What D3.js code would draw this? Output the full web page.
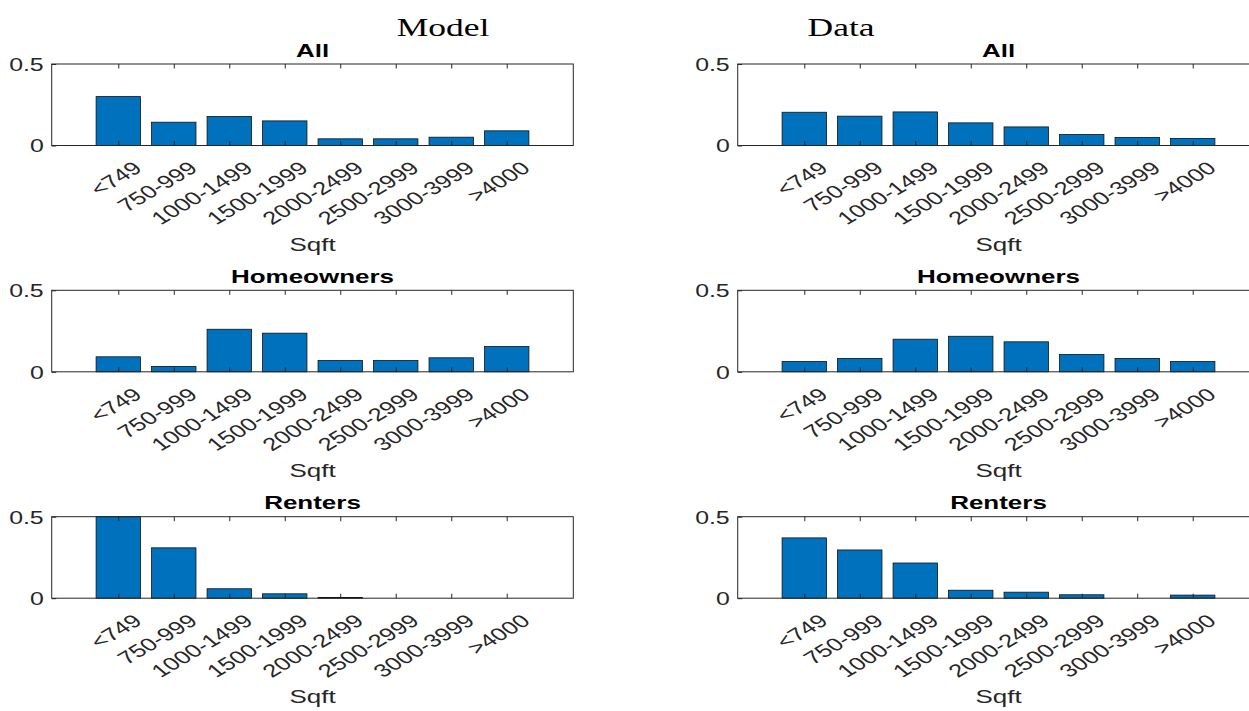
<!DOCTYPE html>
<html>
<head>
<meta charset="utf-8">
<script src="https://cdn.jsdelivr.net/npm/d3@7/dist/d3.min.js"></script>
<style>
  body { margin: 0; background: #fff; }
  svg { display: block; }
</style>
</head>
<body>
<div id="chart"></div>
<script>
// categories and values
var categories = ["<749", "750-999", "1000-1499", "1500-1999", "2000-2499", "2500-2999", "3000-3999", ">4000"];
var modelAll     = [0.300, 0.143, 0.178, 0.151, 0.041, 0.041, 0.051, 0.090];
var dataAll      = [0.204, 0.180, 0.206, 0.139, 0.114, 0.067, 0.049, 0.043];
var modelOwners  = [0.092, 0.033, 0.261, 0.237, 0.069, 0.069, 0.086, 0.155];
var dataOwners   = [0.063, 0.082, 0.200, 0.218, 0.184, 0.106, 0.082, 0.063];
var modelRenters = [0.500, 0.309, 0.058, 0.027, 0.004, 0, 0, 0];
var dataRenters  = [0.370, 0.296, 0.216, 0.049, 0.037, 0.021, 0, 0.019];
var yTicks = [0, 0.5];
var rowTitles = ["All", "Homeowners", "Renters"];
var colTitles = ["Model", "Data"];

// layout
var width = 1249, height = 711;
var sx = 1.42;               // the reference is stretched horizontally
var labelAngle = 40;
var panelW = 521.6, panelH = 81.5;
var colLeft = [51.7, 737.7];
var rowTop = [64, 290.3, 516.7];
var colTitleX = [443, 841];
var font = "'Liberation Sans', Arial, Helvetica, sans-serif";
var axisColor = "#262626";

var panels = [
  {row: 0, col: 0, values: modelAll},
  {row: 0, col: 1, values: dataAll},
  {row: 1, col: 0, values: modelOwners},
  {row: 1, col: 1, values: dataOwners},
  {row: 2, col: 0, values: modelRenters},
  {row: 2, col: 1, values: dataRenters}
];

var svg = d3.select("#chart")
  .append("svg")
    .attr("width", width)
    .attr("height", height);

// column headers
colTitles.forEach(function(t, i) {
  svg.append("text")
    .attr("transform", "translate(" + colTitleX[i] + ",36) scale(" + sx + ",1)")
    .attr("text-anchor", "middle")
    .style("font-family", "'Liberation Serif', 'Times New Roman', serif")
    .style("font-size", "25px")
    .style("fill", "#000")
    .text(t);
});

panels.forEach(function(p) {
  var x0 = colLeft[p.col], y0 = rowTop[p.row];
  var g = svg.append("g");

  var x = d3.scaleLinear()
    .domain([-0.2, 9.2])
    .range([x0, x0 + panelW]);
  var y = d3.scaleLinear()
    .domain([0, 0.5])
    .range([y0 + panelH, y0]);

  // bars
  g.selectAll("rect.bar")
    .data(p.values)
    .enter()
    .append("rect")
      .attr("class", "bar")
      .attr("x", function(d, i) { return x(i + 1 - 0.4); })
      .attr("width", function(d, i) { return x(i + 1 + 0.4) - x(i + 1 - 0.4); })
      .attr("y", function(d) { return y(Math.min(d, 0.5)); })
      .attr("height", function(d) { return y(0) - y(Math.min(d, 0.5)); })
      .style("fill", "#0072BD")
      .style("stroke", "#111")
      .style("stroke-width", 0.8);

  // box
  g.append("rect")
    .attr("x", x0).attr("y", y0)
    .attr("width", panelW).attr("height", panelH)
    .style("fill", "none")
    .style("stroke", axisColor)
    .style("stroke-width", 1);

  var pos = d3.range(1, categories.length + 1);

  // bottom axis: inward ticks + rotated labels
  var xb = g.append("g")
    .attr("transform", "translate(0," + y(0) + ")")
    .call(d3.axisBottom(x).tickValues(pos).tickSizeInner(-4.5).tickSizeOuter(0)
      .tickFormat(function(d) { return categories[d - 1]; }));
  xb.select(".domain").remove();
  xb.selectAll("line").style("stroke", axisColor);
  xb.selectAll("text")
    .attr("x", 0).attr("y", 0).attr("dy", "0.7em")
    .attr("text-anchor", "end")
    .attr("transform", "translate(13,15) scale(" + sx + ",1) rotate(" + (-labelAngle) + ")")
    .style("font-family", font)
    .style("font-size", "18px")
    .style("fill", axisColor);

  // top axis: inward ticks only
  var xt = g.append("g")
    .attr("transform", "translate(0," + y(0.5) + ")")
    .call(d3.axisTop(x).tickValues(pos).tickSizeInner(-4.5).tickSizeOuter(0).tickFormat(""));
  xt.select(".domain").remove();
  xt.selectAll("line").style("stroke", axisColor);

  // left axis
  var yl = g.append("g")
    .attr("transform", "translate(" + x0 + ",0)")
    .call(d3.axisLeft(y).tickValues(yTicks).tickSizeInner(-4.5).tickSizeOuter(0)
      .tickFormat(function(d) { return d === 0 ? "0" : String(d); }));
  yl.select(".domain").remove();
  yl.selectAll("line").style("stroke", axisColor);
  yl.selectAll("text")
    .attr("x", 0).attr("dy", "0.36em")
    .attr("text-anchor", "end")
    .attr("transform", "translate(-8,0) scale(" + sx + ",1)")
    .style("font-family", font)
    .style("font-size", "17.5px")
    .style("fill", axisColor);

  // title
  g.append("text")
    .attr("transform", "translate(" + (x0 + panelW / 2) + "," + (y0 - 7.5) + ") scale(" + sx + ",1)")
    .attr("text-anchor", "middle")
    .style("font-family", font)
    .style("font-size", "18.3px")
    .style("font-weight", "bold")
    .style("fill", "#000")
    .text(rowTitles[p.row]);

  // x label
  g.append("text")
    .attr("transform", "translate(" + (x0 + panelW / 2) + "," + (y(0) + 105) + ") scale(" + sx + ",1)")
    .attr("text-anchor", "middle")
    .style("font-family", font)
    .style("font-size", "18.3px")
    .style("fill", axisColor)
    .text("Sqft");
});
</script>
</body>
</html>
